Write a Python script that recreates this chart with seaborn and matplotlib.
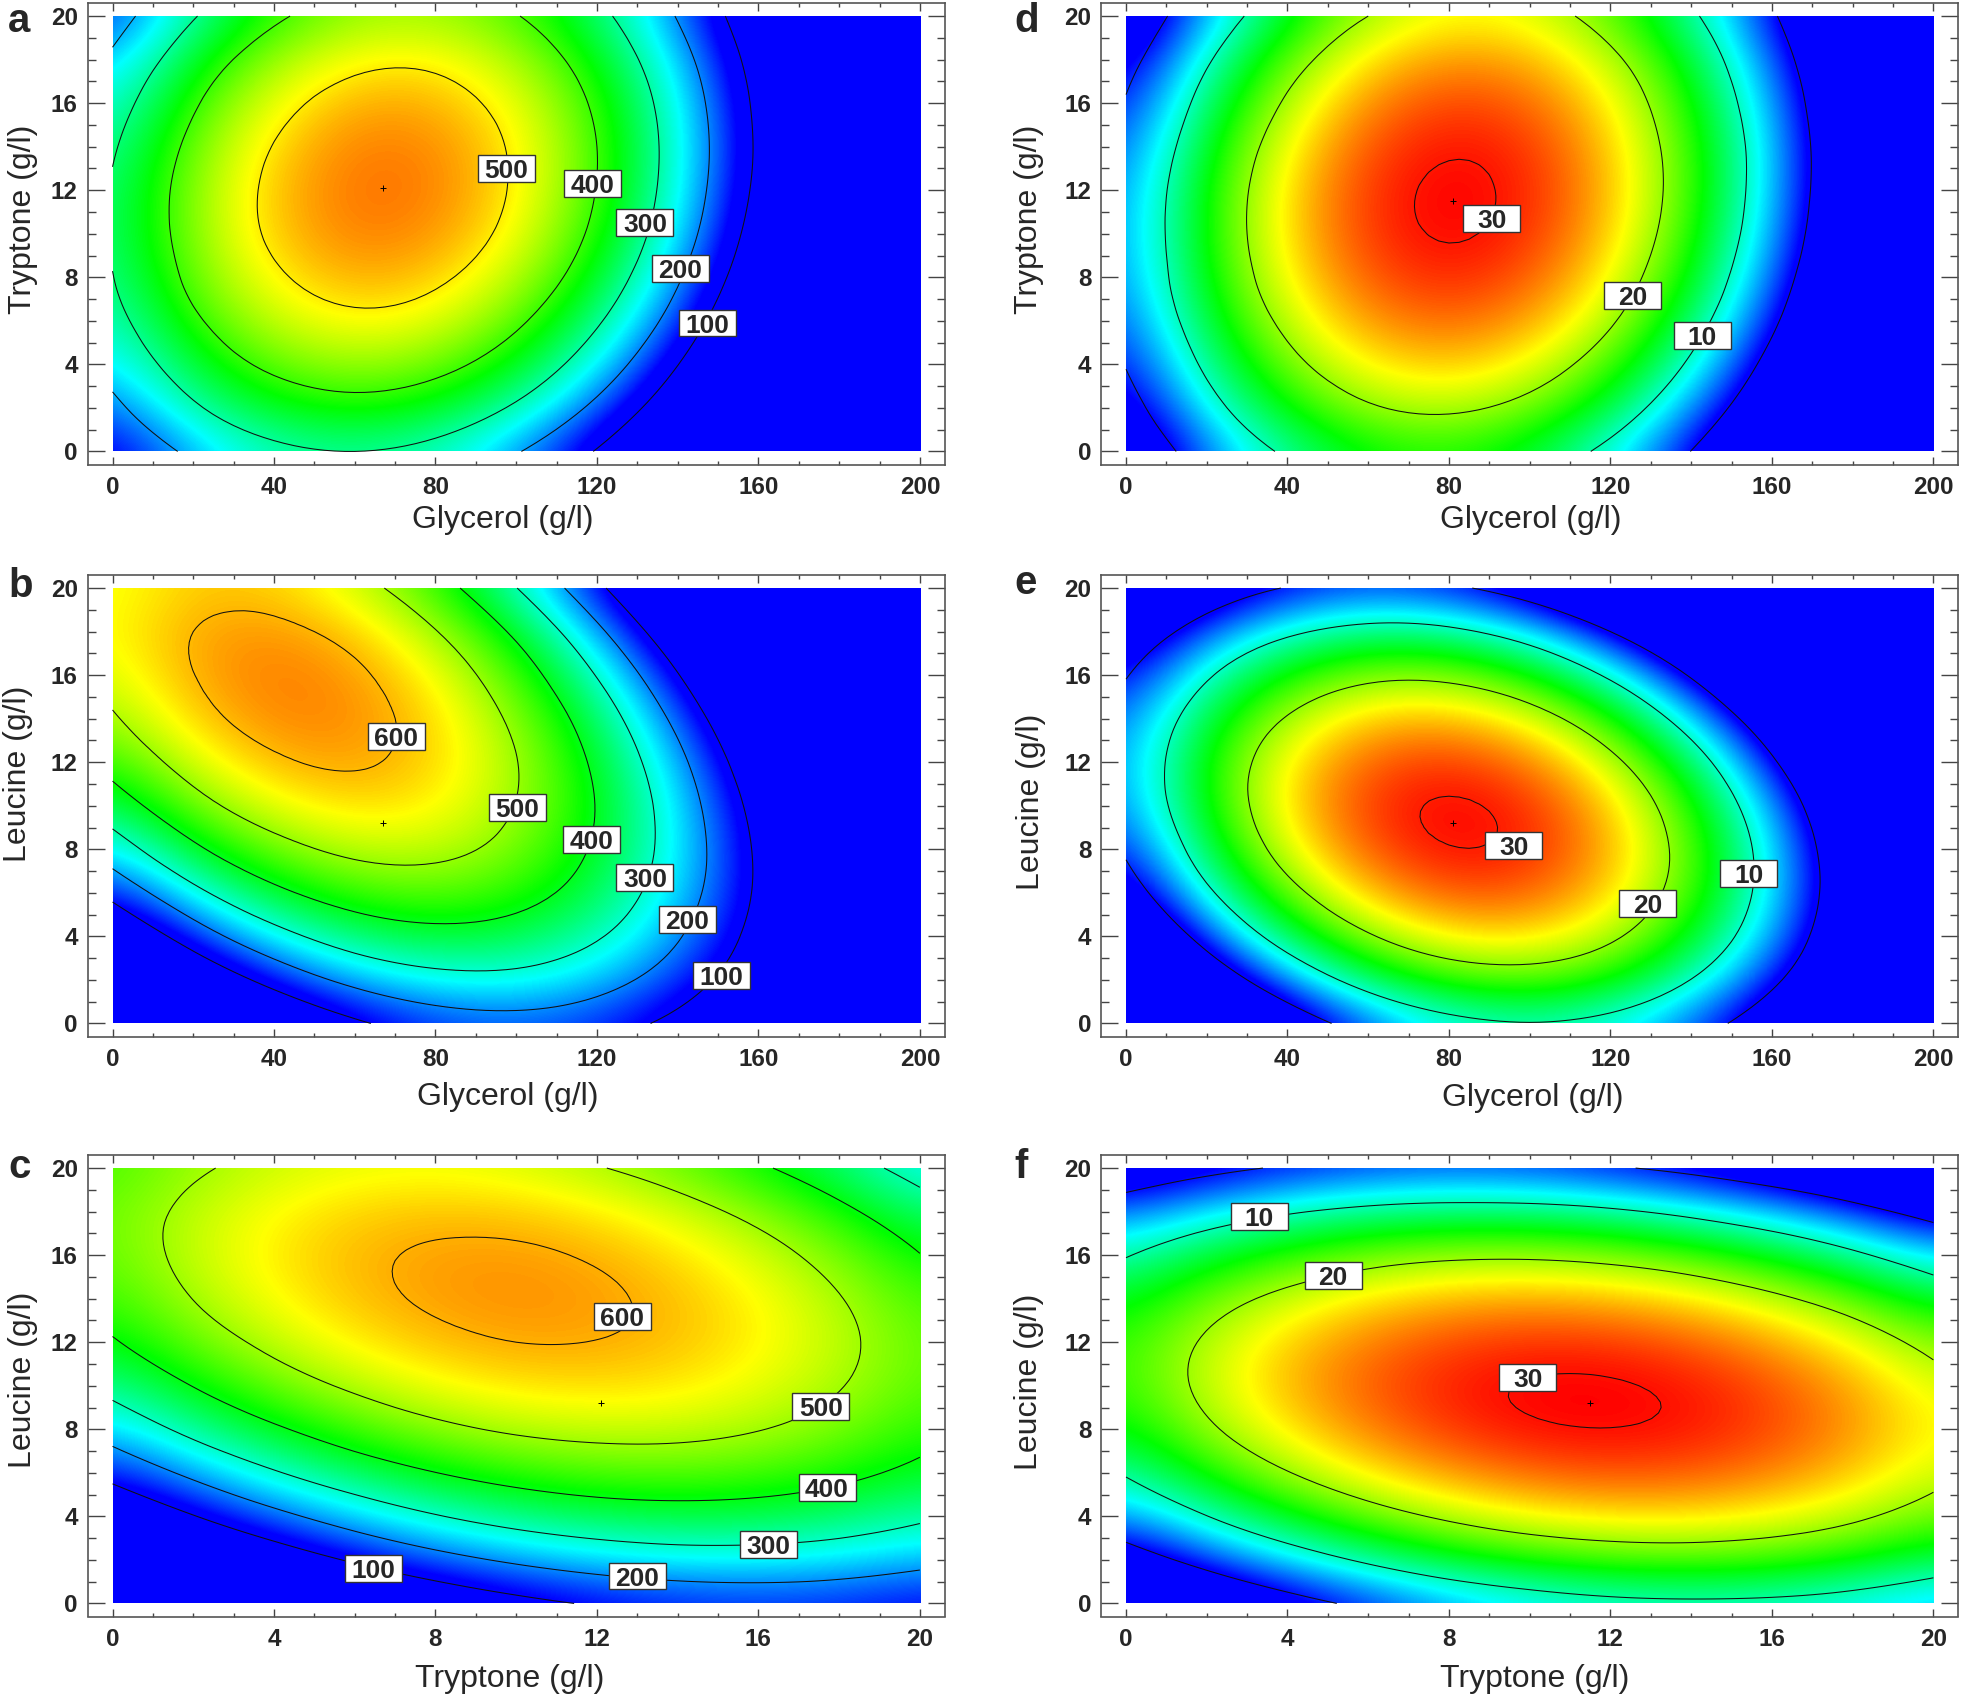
import numpy as np
import matplotlib
matplotlib.use("Agg")
import matplotlib.pyplot as plt
import matplotlib.tri as mtri
from matplotlib.patches import Rectangle
from matplotlib.ticker import MultipleLocator
import seaborn as sns

sns.set_style("ticks")
plt.rcParams['font.family'] = ['Liberation Sans', 'DejaVu Sans']

# grid nodes, rows of the tables below go from y=0 up to y=20
glycerol = [0, 20, 40, 60, 80, 100, 120, 140, 160, 180, 200]
conc_20 = [0, 2, 4, 6, 8, 10, 12, 14, 16, 18, 20]

z_a = [
    [112, 218, 281, 300, 275, 206, 94, -62, -261, -504, -791],
    [179, 289, 354, 376, 354, 289, 180, 27, -169, -409, -693],
    [233, 345, 414, 439, 420, 358, 252, 102, -92, -329, -609],
    [273, 388, 460, 488, 472, 412, 309, 163, -28, -262, -540],
    [298, 417, 491, 522, 509, 453, 353, 209, 22, -209, -484],
    [310, 431, 509, 543, 533, 480, 383, 242, 57, -171, -443],
    [307, 432, 512, 549, 543, 492, 398, 260, 79, -146, -415],
    [291, 418, 502, 542, 538, 491, 400, 265, 87, -135, -401],
    [261, 391, 478, 521, 520, 476, 388, 256, 80, -139, -401],
    [216, 350, 439, 485, 488, 446, 361, 232, 60, -156, -416],
    [158, 294, 387, 436, 441, 403, 321, 195, 26, -187, -444],
]
z_b = [
    [-365, -172, -22, 84, 147, 166, 141, 72, -40, -196, -396],
    [-179, -1, 133, 224, 271, 275, 234, 150, 23, -149, -364],
    [-15, 148, 267, 343, 374, 362, 307, 207, 64, -122, -353],
    [129, 276, 380, 440, 456, 429, 358, 243, 85, -117, -363],
    [251, 383, 471, 516, 517, 474, 388, 258, 84, -133, -395],
    [352, 469, 542, 571, 557, 498, 397, 251, 62, -171, -447],
    [432, 533, 591, 605, 575, 502, 384, 224, 19, -229, -521],
    [491, 577, 619, 617, 572, 483, 351, 175, -45, -309, -616],
    [528, 599, 626, 609, 548, 444, 296, 105, -131, -410, -732],
    [545, 600, 611, 579, 503, 384, 220, 13, -237, -532, -870],
    [540, 580, 576, 528, 437, 302, 123, -99, -365, -675, -1028],
]
z_c = [
    [-320, -213, -121, -42, 22, 72, 109, 131, 140, 134, 114],
    [-148, -48, 38, 111, 169, 213, 243, 260, 262, 250, 224],
    [2, 96, 176, 242, 295, 333, 357, 367, 363, 345, 313],
    [131, 219, 293, 353, 399, 431, 449, 453, 443, 419, 381],
    [240, 322, 389, 443, 483, 509, 520, 518, 502, 472, 427],
    [327, 402, 464, 511, 545, 565, 570, 562, 539, 503, 453],
    [393, 462, 517, 559, 586, 600, 599, 585, 556, 514, 457],
    [437, 501, 550, 585, 606, 614, 607, 586, 552, 503, 440],
    [461, 518, 561, 590, 605, 607, 594, 567, 526, 471, 402],
    [463, 514, 551, 574, 583, 578, 559, 526, 479, 418, 343],
    [445, 490, 521, 537, 540, 529, 504, 465, 411, 344, 263],
]
z_d = [
    [-6.8, 3.7, 10.9, 15.0, 16.0, 13.8, 8.4, -0.1, -11.8, -26.7, -44.7],
    [-2.8, 7.8, 15.2, 19.5, 20.6, 18.5, 13.3, 4.9, -6.6, -21.3, -39.2],
    [0.3, 11.0, 18.6, 23.0, 24.3, 22.4, 17.3, 9.1, -2.3, -16.8, -34.6],
    [2.5, 13.4, 21.1, 25.7, 27.12, 25.4, 20.5, 12.4, 1.2, -13.3, -30.8],
    [3.9, 14.9, 22.8, 27.51, 29.07, 27.47, 22.7, 14.8, 3.7, -10.5, -27.9],
    [4.3, 15.5, 23.6, 28.44, 30.16, 28.71, 24.1, 16.3, 5.4, -8.7, -25.9],
    [3.9, 15.3, 23.5, 28.49, 30.36, 29.06, 24.6, 17.0, 6.2, -7.7, -24.8],
    [2.6, 14.1, 22.5, 27.67, 29.69, 28.55, 24.2, 16.8, 6.2, -7.6, -24.5],
    [0.5, 12.1, 20.6, 25.97, 28.14, 27.16, 23.0, 15.7, 5.2, -8.4, -25.2],
    [-2.5, 9.3, 17.9, 23.4, 25.73, 24.9, 20.9, 13.8, 3.4, -10.0, -26.7],
    [-6.5, 5.5, 14.3, 20.0, 22.4, 21.8, 17.9, 10.9, 0.8, -12.6, -29.0],
]
z_e = [
    [-30.6, -16.0, -4.8, 3.3, 8.1, 9.8, 8.1, 3.3, -4.8, -16.0, -30.6],
    [-19.7, -5.8, 4.9, 12.4, 16.6, 17.6, 15.4, 9.9, 1.3, -10.6, -25.8],
    [-10.7, 2.6, 12.7, 19.5, 23.13, 23.52, 20.7, 14.6, 5.4, -7.2, -22.9],
    [-3.8, 8.9, 18.3, 24.54, 27.55, 27.33, 23.89, 17.2, 7.3, -5.8, -22.1],
    [0.9, 13.0, 21.9, 27.49, 29.88, 29.06, 25.01, 17.7, 7.2, -6.5, -23.4],
    [3.7, 15.2, 23.4, 28.42, 30.21, 28.77, 24.11, 16.2, 5.1, -9.2, -26.8],
    [4.4, 15.3, 22.9, 27.28, 28.46, 26.42, 21.15, 12.7, 0.9, -14.0, -32.2],
    [3.1, 13.3, 20.3, 24.11, 24.68, 22.03, 16.15, 7.0, -5.3, -20.8, -39.6],
    [-0.4, 9.3, 15.7, 18.87, 18.83, 15.57, 9.08, -0.6, -13.6, -29.7, -49.1],
    [-5.8, 3.2, 9.0, 11.6, 11.0, 7.1, 0.0, -10.3, -23.9, -40.6, -60.6],
    [-13.3, -4.9, 0.3, 2.2, 1.0, -3.5, -11.2, -22.1, -36.3, -53.7, -74.3],
]
z_f = [
    [-13.6, -7.7, -2.6, 1.5, 4.8, 7.1, 8.6, 9.1, 8.8, 7.6, 5.5],
    [-3.5, 2.2, 6.9, 10.8, 13.8, 15.8, 17.0, 17.3, 16.7, 15.2, 12.8],
    [4.5, 9.9, 14.4, 18.0, 20.67, 22.47, 23.37, 23.37, 22.48, 20.69, 18.0],
    [10.5, 15.6, 19.82, 23.13, 25.54, 27.06, 27.68, 27.41, 26.24, 24.17, 21.22],
    [14.5, 19.3, 23.21, 26.24, 28.38, 29.62, 29.96, 29.41, 27.97, 25.62, 22.39],
    [16.4, 20.9, 24.55, 27.3, 29.16, 30.12, 30.19, 29.36, 27.64, 25.02, 21.5],
    [16.2, 20.47, 23.85, 26.32, 27.9, 28.59, 28.38, 27.28, 25.27, 22.37, 18.57],
    [14.0, 18.0, 21.09, 23.29, 24.59, 25.0, 24.51, 23.13, 20.84, 17.68, 13.6],
    [9.7, 13.5, 16.27, 18.2, 19.22, 19.35, 18.59, 16.92, 14.37, 10.91, 6.56],
    [3.5, 6.9, 9.5, 11.1, 11.8, 11.7, 10.7, 8.7, 5.9, 2.2, -2.5],
    [-4.9, -1.7, 0.6, 1.9, 2.4, 2.0, 0.6, -1.6, -4.7, -8.7, -13.6],
]

levels_yield = [100, 200, 300, 400, 500, 600]
levels_prod = [0, 10, 20, 30]

# optimum point shown on each panel
opt_a = (67, 12.1)
opt_b = (67, 9.2)
opt_c = (12.1, 9.2)
opt_d = (81, 11.5)
opt_e = (81, 9.2)
opt_f = (11.5, 9.2)

# contour labels: x, y, text
labels_a = [(97.5, 13, "500"), (119, 12.3, "400"), (131.9, 10.5, "300"), (140.6, 8.4, "200"), (147.4, 5.9, "100")]
labels_b = [(70.3, 13.2, "600"), (100.3, 9.9, "500"), (118.6, 8.45, "400"), (131.9, 6.7, "300"), (142.4, 4.77, "200"), (150.8, 2.2, "100")]
labels_c = [(12.63, 13.2, "600"), (17.55, 9.05, "500"), (17.7, 5.33, "400"), (16.25, 2.7, "300"), (13, 1.26, "200"), (6.47, 1.6, "100")]
labels_d = [(90.6, 10.7, "30"), (125.5, 7.16, "20"), (142.8, 5.33, "10")]
labels_e = [(96.1, 8.16, "30"), (129.2, 5.5, "20"), (154.3, 6.9, "10")]
labels_f = [(9.95, 10.37, "30"), (5.13, 15.07, "20"), (3.3, 17.76, "10")]

W, H = 1961, 1697
cols = {"l": (87.5, 944.5), "r": (1101, 1958)}
rows = {"t": (3, 464.5), "m": (575, 1036.5), "b": (1155, 1616.5)}

rainbow = sns.blend_palette(["#0000ff", "#00ffff", "#00ff00", "#ffff00", "#ff0000"], n_colors=256, as_cmap=True)

panels = [
    ("a", "l", "t", glycerol, z_a, levels_yield, (130, 600), opt_a, labels_a, "Glycerol (g/l)", "Tryptone (g/l)", (503, 520), (23, 219), (8, 32)),
    ("b", "l", "m", glycerol, z_b, levels_yield, (115, 695), opt_b, labels_b, "Glycerol (g/l)", "Leucine (g/l)", (508, 1097), (18, 774), (8, 597)),
    ("c", "l", "b", conc_20, z_c, levels_yield, (115, 695), opt_c, labels_c, "Tryptone (g/l)", "Leucine (g/l)", (510, 1679), (23, 1380), (8, 1178)),
    ("d", "r", "t", glycerol, z_d, levels_prod, (0, 30), opt_d, labels_d, "Glycerol (g/l)", "Tryptone (g/l)", (1531, 520), (1029, 219), (1014, 32)),
    ("e", "r", "m", glycerol, z_e, levels_prod, (0, 30), opt_e, labels_e, "Glycerol (g/l)", "Leucine (g/l)", (1533, 1098), (1031, 802), (1014, 594)),
    ("f", "r", "b", conc_20, z_f, levels_prod, (0, 30), opt_f, labels_f, "Tryptone (g/l)", "Leucine (g/l)", (1535, 1679), (1029, 1382), (1014, 1178)),
]

fig = plt.figure(figsize=(W / 100, H / 100), dpi=100)

for letter, c, r, xs, z, levels, lim, opt, labs, xlabel, ylabel, xl_pos, yl_pos, let_pos in panels:
    left, right = cols[c]
    top, bottom = rows[r]
    ax = fig.add_axes([left / W, 1 - bottom / H, (right - left) / W, (bottom - top) / H])

    xmax = xs[-1]
    step = xs[1] - xs[0]
    z = np.array(z, dtype=float)
    im = ax.imshow(z, origin="lower", aspect="auto", cmap=rainbow,
                   vmin=lim[0], vmax=lim[1], interpolation="bicubic", interpolation_stage="data",
                   extent=[-step / 2, xmax + step / 2, -1, 21])
    im.set_clip_path(Rectangle((0, 0), xmax, 20, transform=ax.transData))

    # smooth the contour lines, triangulated on equal axis scales
    scale = 20 / xmax
    gx, gy = np.meshgrid(xs, conc_20)
    tri = mtri.Triangulation(gx.ravel() * scale, gy.ravel())
    fine, fine_z = mtri.UniformTriRefiner(tri).refine_field(z.ravel(), subdiv=3)
    ax.tricontour(fine.x / scale, fine.y, fine.triangles, fine_z, levels=levels,
                  colors="#111111", linewidths=0.75)

    sns.scatterplot(x=[opt[0]], y=[opt[1]], marker="+", s=16, color="black", linewidth=0.7, ax=ax, zorder=4)

    # label boxes all have the same size, 57x27 px
    box_w = 57 * xmax / 808
    box_h = 27 / 21.8
    for lx, ly, txt in labs:
        ax.add_patch(Rectangle((lx - box_w / 2, ly - box_h / 2), box_w, box_h, fc="white", ec="#333333",
                               lw=1, zorder=5))
        ax.text(lx, ly, txt, ha="center", va="center_baseline", fontsize=19, fontweight="bold", zorder=6)

    ax.set_xlim(-0.031 * xmax, 1.0305 * xmax)
    ax.set_ylim(-0.6, 20.6)
    major = 40 if xmax == 200 else 4
    ax.xaxis.set_major_locator(MultipleLocator(major))
    ax.xaxis.set_minor_locator(MultipleLocator(major / 4))
    ax.yaxis.set_major_locator(MultipleLocator(4))
    ax.yaxis.set_minor_locator(MultipleLocator(1))
    ax.tick_params(axis="both", which="both", direction="in", top=True, right=True, color="#444444", width=1)
    ax.tick_params(axis="x", which="major", length=5.8, labelsize=17.5, pad=8)
    ax.tick_params(axis="x", which="minor", length=2.9)
    ax.tick_params(axis="y", which="major", length=12.2, labelsize=17.5, pad=7)
    ax.tick_params(axis="y", which="minor", length=5.8)
    for lab in ax.get_xticklabels() + ax.get_yticklabels():
        lab.set_fontweight("bold")
    for sp in ax.spines.values():
        sp.set_color("#555555")
        sp.set_linewidth(1.2)

    ax.set_xlabel(xlabel, fontsize=23, va="center")
    ax.xaxis.set_label_coords(xl_pos[0] / W, 1 - xl_pos[1] / H, transform=fig.transFigure)
    ax.set_ylabel(ylabel, fontsize=23, va="center")
    ax.yaxis.set_label_coords(yl_pos[0] / W, 1 - yl_pos[1] / H, transform=fig.transFigure)

    fig.text(let_pos[0] / W, 1 - let_pos[1] / H, letter, fontsize=29, fontweight="bold", ha="left", va="baseline")

fig.savefig("out.png", dpi=100)
